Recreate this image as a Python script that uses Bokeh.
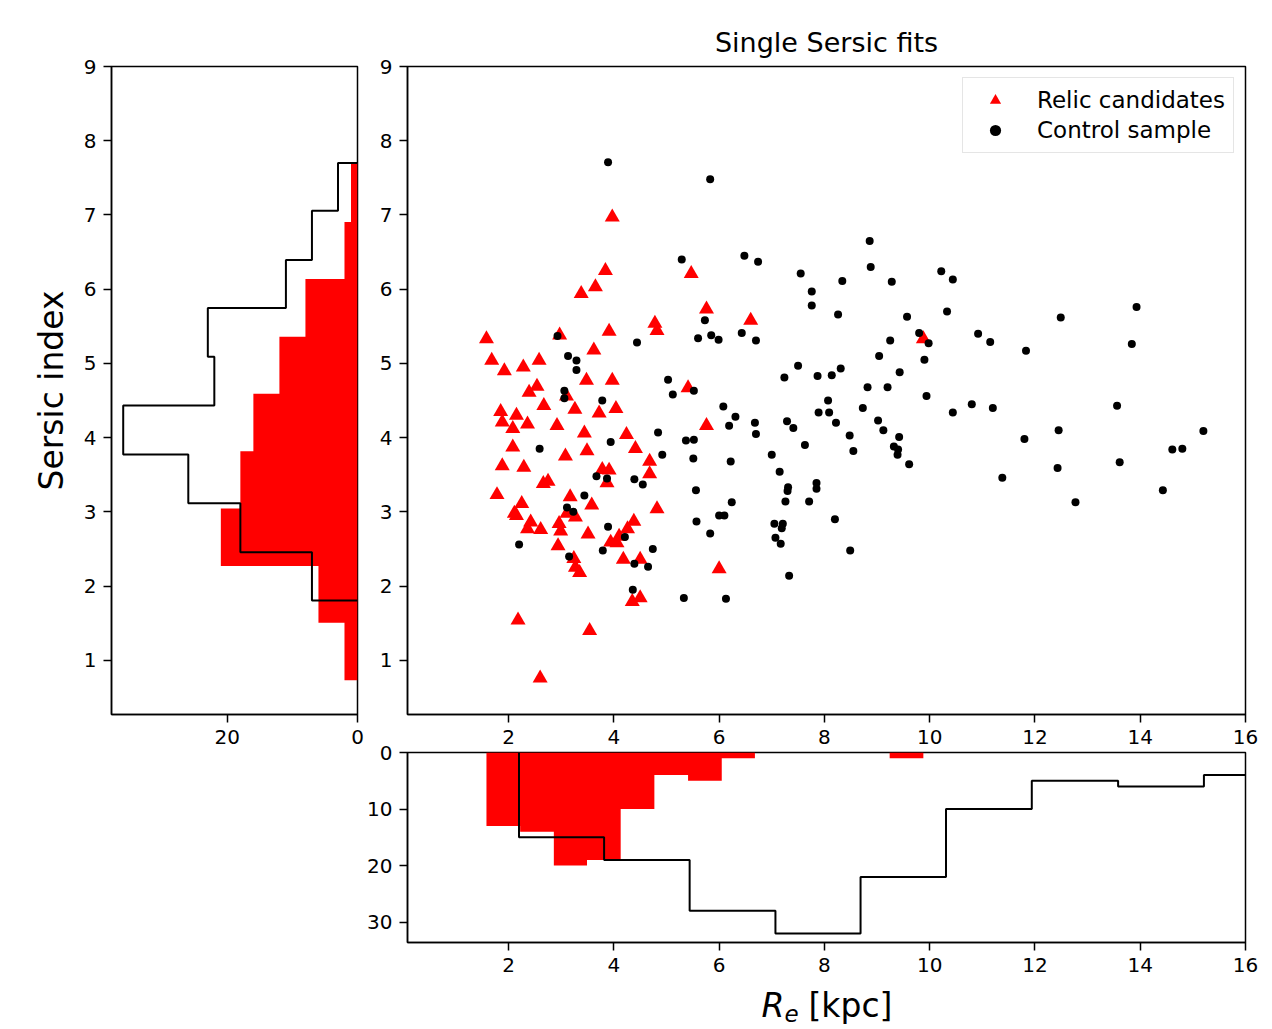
from bokeh.plotting import figure
from bokeh.models import Range1d, FixedTicker, Label, Legend, LegendItem
from bokeh.layouts import column, row
from bokeh.embed import file_html
from bokeh.resources import INLINE

# ---------------- data ----------------
relic_re = [1.58, 1.68, 1.92, 2.28, 2.58, 2.97, 3.38, 3.65, 3.84, 3.97, 3.62, 3.91, 4.78, 4.82,
            5.47, 5.76, 6.60, 9.88, 3.48, 3.97, 2.54, 2.39, 3.10, 2.67, 3.26, 3.72, 4.04, 1.85,
            2.15, 1.88, 2.36, 2.08, 2.92, 3.44, 4.24, 5.41, 5.76, 4.41, 3.49, 2.08, 3.08, 1.88,
            2.29, 3.78, 3.91, 4.68, 4.68, 3.87, 2.66, 2.75, 1.78, 2.25, 3.17, 3.58, 4.82, 2.11,
            2.15, 3.27, 3.11, 2.42, 2.36, 2.61, 2.96, 2.99, 3.51, 4.38, 4.26, 4.10, 3.94, 4.06,
            2.94, 3.24, 3.27, 3.35, 4.18, 4.50, 6.00, 4.35, 4.50, 2.18, 3.54, 2.60]
relic_n = [5.33, 5.04, 4.90, 4.95, 5.04, 5.38, 5.94, 6.03, 6.25, 6.97, 5.18, 5.43, 5.54, 5.44,
           6.21, 5.73, 5.58, 5.33, 4.77, 4.77, 4.69, 4.61, 4.56, 4.43, 4.38, 4.33, 4.39, 4.35,
           4.30, 4.21, 4.18, 4.12, 4.16, 4.06, 4.04, 4.67, 4.16, 3.85, 3.82, 3.87, 3.75, 3.62,
           3.60, 3.57, 3.56, 3.68, 3.51, 3.39, 3.38, 3.41, 3.23, 3.11, 3.20, 3.09, 3.04, 2.98,
           2.95, 2.93, 2.98, 2.86, 2.77, 2.76, 2.84, 2.74, 2.70, 2.87, 2.77, 2.67, 2.59, 2.58,
           2.54, 2.37, 2.25, 2.18, 2.36, 2.36, 2.23, 1.79, 1.84, 1.54, 1.40, 0.76]

control_re = [3.89, 5.83, 5.29, 6.48, 6.74, 8.86, 8.88, 7.55, 10.22, 10.44, 8.34, 9.28, 7.76, 7.76,
              8.26, 9.57, 10.33, 13.93, 12.49, 5.73, 5.60, 5.85, 5.99, 6.43, 6.70, 9.80, 9.98,
              10.92, 11.15, 9.25, 13.84, 11.83, 9.04, 9.90, 7.50, 7.24, 7.87, 8.14, 8.31, 9.43,
              8.82, 9.20, 9.94, 8.07, 7.89, 8.09, 8.73, 10.44, 10.80, 11.20, 13.56, 6.31, 6.08,
              6.19, 6.68, 6.70, 7.29, 7.41, 8.22, 9.02, 9.12, 9.42, 9.32, 9.40, 9.39, 9.61, 8.48,
              8.55, 7.63, 7.00, 6.22, 7.15, 7.31, 7.30, 7.85, 7.85, 7.26, 7.71, 6.24, 8.20, 7.05,
              7.21, 7.19, 7.07, 7.17, 8.49, 7.33, 11.38, 12.45, 11.80, 15.20, 14.61, 14.80, 12.43,
              13.61, 14.43, 12.77, 4.44, 2.93, 3.13, 3.29, 3.29, 5.03, 5.12, 5.52, 3.06, 3.06,
              3.78, 4.84, 3.94, 5.37, 5.52, 2.59, 4.92, 5.51, 3.67, 3.87, 4.39, 4.55, 5.56, 3.44,
              3.11, 3.23, 6.00, 6.10, 5.57, 3.89, 5.83, 4.21, 2.20, 4.74, 3.79, 3.15, 4.39, 4.65,
              4.36, 5.33, 6.13]
control_n = [7.71, 7.48, 6.40, 6.45, 6.37, 6.65, 6.30, 6.21, 6.24, 6.13, 6.11, 6.10, 5.97, 5.78,
             5.66, 5.63, 5.70, 5.76, 5.62, 5.58, 5.34, 5.38, 5.32, 5.41, 5.31, 5.41, 5.27,
             5.40, 5.29, 5.31, 5.26, 5.17, 5.10, 5.05, 4.97, 4.81, 4.83, 4.84, 4.93, 4.88,
             4.68, 4.68, 4.56, 4.50, 4.34, 4.34, 4.40, 4.34, 4.45, 4.40, 4.43, 4.28, 4.42,
             4.16, 4.20, 4.05, 4.22, 4.13, 4.20, 4.23, 4.10, 4.01, 3.88, 3.84, 3.77, 3.64, 4.03,
             3.82, 3.90, 3.77, 3.68, 3.54, 3.33, 3.28, 3.39, 3.31, 3.14, 3.14, 3.13, 2.90, 2.84,
             2.84, 2.78, 2.65, 2.57, 2.48, 2.14, 3.46, 4.10, 3.98, 4.09, 3.84, 3.85, 3.59,
             3.67, 3.29, 3.13, 5.28, 5.37, 5.10, 5.04, 4.91, 4.78, 4.58, 4.63, 4.63, 4.53,
             4.50, 4.07, 3.94, 3.96, 3.97, 3.85, 3.77, 3.72, 3.48, 3.45, 3.44, 3.37, 3.29, 3.22,
             3.06, 3.00, 2.95, 2.95, 2.87, 2.80, 2.71, 2.66, 2.56, 2.50, 2.48, 2.40, 2.30, 2.26,
             1.95, 1.84, 1.83]

# histograms (bin edges and counts)
relic_n_edges = [0.73, 1.506, 2.27, 3.045, 3.815, 4.59, 5.36, 6.136, 6.906, 7.70]
relic_n_counts = [2, 6, 21, 18, 16, 12, 8, 2, 1]
control_n_edges = [1.806, 2.456, 3.117, 3.773, 4.434, 5.09, 5.745, 6.394, 7.056, 7.70]
control_n_counts = [7, 18, 26, 36, 22, 23, 11, 7, 3]

relic_re_edges = [1.58, 2.22, 2.86, 3.49, 4.13, 4.77, 5.41, 6.05, 6.68, 7.32, 7.96, 8.60, 9.24, 9.88]
relic_re_counts = [13, 14, 20, 19, 10, 4, 5, 1, 0, 0, 0, 0, 1]
control_re_edges = [2.198, 3.815, 5.44, 7.07, 8.687, 10.31, 11.94, 13.58, 15.21, 16.84]
control_re_counts = [15, 19, 28, 32, 22, 10, 5, 6, 4]

x_ticks = [2, 4, 6, 8, 10, 12, 14, 16]
y_ticks = [1, 2, 3, 4, 5, 6, 7, 8, 9]
left_count_ticks = [0, 20]
bottom_count_ticks = [0, 10, 20, 30]

FONT = "DejaVu Sans"
TICK_SIZE = "20px"


def step_path(edges, counts):
    """Outline of a histogram: returns (positions along bins, counts)."""
    pos = [edges[0]]
    val = [0]
    for i, c in enumerate(counts):
        pos += [edges[i], edges[i + 1]]
        val += [c, c]
    pos.append(edges[-1])
    val.append(0)
    return pos, val


def style(p):
    p.outline_line_color = "black"
    p.outline_line_width = 1.5
    p.outline_line_alpha = 1
    p.xgrid.visible = False
    p.ygrid.visible = False
    p.background_fill_color = "white"
    for ax in p.axis:
        ax.major_tick_out = 8
        ax.major_tick_in = 0
        ax.minor_tick_out = 0
        ax.minor_tick_in = 0
        ax.axis_line_color = "black"
        ax.axis_line_width = 1.5
        ax.major_tick_line_color = "black"
        ax.major_tick_line_width = 1.5
        ax.major_label_text_font = FONT
        ax.major_label_text_font_size = TICK_SIZE
        ax.major_label_text_color = "black"
        ax.major_label_standoff = 7


# ---------------- main scatter ----------------
main = figure(frame_width=838, frame_height=648,
              x_range=Range1d(0.08, 16), y_range=Range1d(0.27, 9),
              output_backend="svg", toolbar_location=None,
              min_border_left=38, min_border_right=16, min_border_top=66, min_border_bottom=38,
              title="Single Sersic fits")
main.title.align = "center"
main.title.text_font = FONT
main.title.text_font_size = "27px"
main.title.text_font_style = "normal"
main.title.text_color = "black"
main.title.standoff = 18

r1 = main.scatter(relic_re, relic_n, marker="triangle", size=15, fill_color="red", line_color=None)
r2 = main.scatter(control_re, control_n, marker="circle", size=8, fill_color="black", line_color=None)
main.xaxis.ticker = FixedTicker(ticks=x_ticks)
main.yaxis.ticker = FixedTicker(ticks=y_ticks)
style(main)

legend = Legend(items=[LegendItem(label="Relic candidates", renderers=[r1]),
                       LegendItem(label="Control sample", renderers=[r2])],
                location="top_right")
legend.label_text_font = FONT
legend.label_text_font_size = "23px"
legend.label_text_color = "black"
legend.glyph_width = 48
legend.glyph_height = 28
legend.label_standoff = 18
legend.padding = 8
legend.spacing = 2
legend.margin = 11
legend.border_line_color = "#cccccc"
legend.border_line_width = 1.2
legend.background_fill_alpha = 0.8
main.add_layout(legend)

# ---------------- left histogram (Sersic index) ----------------
left = figure(frame_width=246, frame_height=648,
              x_range=Range1d(37.8, 0), y_range=main.y_range,
              output_backend="svg", toolbar_location=None,
              min_border_left=111, min_border_right=12, min_border_top=66, min_border_bottom=38)
rn_y, rn_x = step_path(relic_n_edges, relic_n_counts)
left.patch(rn_x, rn_y, fill_color="red", line_color=None)
cn_y, cn_x = step_path(control_n_edges, control_n_counts)
left.line(cn_x, cn_y, line_color="black", line_width=2)
left.xaxis.ticker = FixedTicker(ticks=left_count_ticks)
left.yaxis.ticker = FixedTicker(ticks=y_ticks)
style(left)
left.yaxis.axis_label = "Sersic index"
left.yaxis.axis_label_text_font = FONT
left.yaxis.axis_label_text_font_size = "33px"
left.yaxis.axis_label_text_font_style = "normal"
left.yaxis.axis_label_text_color = "black"
left.yaxis.axis_label_standoff = 10

# ---------------- bottom histogram (Re) ----------------
bottom = figure(frame_width=838, frame_height=190,
                x_range=main.x_range, y_range=Range1d(33.6, 0),
                output_backend="svg", toolbar_location=None,
                min_border_left=407, min_border_right=16, min_border_top=10, min_border_bottom=40,
                margin=(-10, 0, 0, 0))
rr_x, rr_y = step_path(relic_re_edges, relic_re_counts)
bottom.patch(rr_x, rr_y, fill_color="red", line_color=None)
cr_x, cr_y = step_path(control_re_edges, control_re_counts)
bottom.line(cr_x, cr_y, line_color="black", line_width=2)
bottom.xaxis.ticker = FixedTicker(ticks=x_ticks)
bottom.yaxis.ticker = FixedTicker(ticks=bottom_count_ticks)
style(bottom)
bottom.border_fill_alpha = 0

# ---------------- x-axis label strip:  R_e [kpc]  (italic R, subscript e) ----------------
lab = figure(frame_width=1261, frame_height=46, x_range=Range1d(0, 1261), y_range=Range1d(0, 46),
             output_backend="svg", toolbar_location=None,
             x_axis_type=None, y_axis_type=None,
             min_border_left=0, min_border_right=0, min_border_top=0, min_border_bottom=0)
lab.frame_align = False
lab.outline_line_color = None
lab.xgrid.visible = False
lab.ygrid.visible = False
lab.add_layout(Label(x=761, y=23, text="R",
                     text_font=FONT, text_font_size="33px", text_font_style="italic",
                     text_color="black", text_baseline="middle"))
lab.add_layout(Label(x=784, y=15, text="e",
                     text_font=FONT, text_font_size="23px", text_font_style="italic",
                     text_color="black", text_baseline="middle"))
lab.add_layout(Label(x=808, y=23, text="[kpc]",
                     text_font=FONT, text_font_size="33px", text_font_style="normal",
                     text_color="black", text_baseline="middle"))

layout = column(row(left, main), bottom, lab)
open("out.html", "w").write(file_html(layout, INLINE))
